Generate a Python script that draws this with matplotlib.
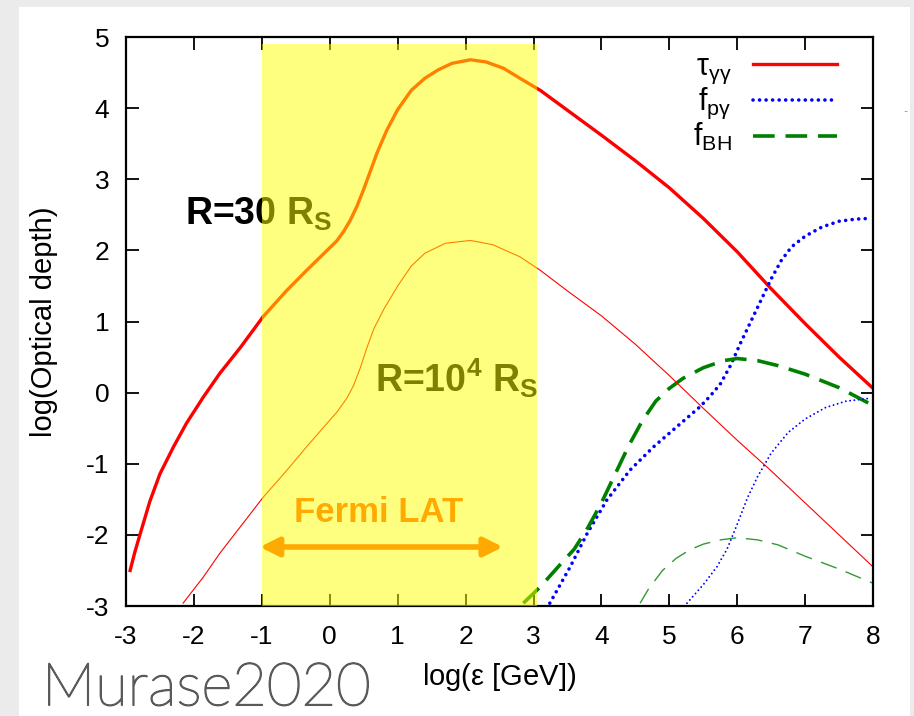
import matplotlib
matplotlib.use('Agg')
import matplotlib.pyplot as plt
import matplotlib.patheffects as pe
from matplotlib.patches import Rectangle

# thick curves: R = 30 R_S
tau30_x = [-2.94, -2.87, -2.79, -2.65, -2.50, -2.30, -2.11, -1.86, -1.62, -1.32, -0.98, -0.63, -0.34, -0.04,
           0.1, 0.2, 0.3, 0.4, 0.5, 0.6, 0.7, 0.84, 1.0, 1.2, 1.4, 1.6, 1.8, 2.07, 2.3, 2.56, 2.8, 3.1,
           3.5, 4.0, 4.5, 5.0, 5.5, 6.0, 6.5, 7.0, 7.5, 8.0]
tau30_y = [-2.50, -2.24, -1.98, -1.53, -1.14, -0.76, -0.43, -0.06, 0.27, 0.63, 1.07, 1.44, 1.72, 2.0,
           2.13, 2.26, 2.42, 2.62, 2.86, 3.12, 3.38, 3.69, 3.98, 4.25, 4.42, 4.54, 4.63, 4.68, 4.65, 4.56,
           4.42, 4.25, 3.97, 3.62, 3.26, 2.88, 2.45, 1.98, 1.46, 0.97, 0.5, 0.06]
fpg30_x = [3.24, 3.54, 3.79, 4.08, 4.42, 4.77, 5.11, 5.45, 5.6, 5.75, 5.9, 6.05, 6.2, 6.35, 6.5, 6.65,
           6.8, 7.0, 7.25, 7.5, 7.75, 7.95]
fpg30_y = [-2.96, -2.45, -1.98, -1.51, -1.09, -0.76, -0.48, -0.2, -0.05, 0.12, 0.38, 0.7, 1.0, 1.3, 1.6,
           1.86, 2.05, 2.2, 2.33, 2.41, 2.44, 2.45]
fbh30_x = [2.85, 3.10, 3.39, 3.6, 3.8, 4.0, 4.2, 4.4, 4.6, 4.8, 5.0, 5.2, 5.5, 5.8, 6.0, 6.3, 6.6, 7.0,
           7.5, 8.0]
fbh30_y = [-2.96, -2.73, -2.42, -2.2, -1.9, -1.55, -1.15, -0.75, -0.4, -0.12, 0.06, 0.2, 0.35, 0.45, 0.48,
           0.45, 0.38, 0.26, 0.07, -0.18]

# thin curves: R = 1e4 R_S
tau4_x = [-2.16, -1.86, -1.62, -1.32, -0.98, -0.63, -0.34, -0.04, 0.1, 0.25, 0.35, 0.45, 0.55, 0.65,
          0.8, 1.0, 1.2, 1.4, 1.7, 2.07, 2.4, 2.8, 3.1, 3.5, 4.0, 4.5, 5.0, 5.5, 6.0, 6.5, 7.0, 7.5, 8.0]
tau4_y = [-2.96, -2.59, -2.26, -1.89, -1.47, -1.09, -0.76, -0.43, -0.28, -0.08, 0.1, 0.35, 0.64, 0.9,
          1.18, 1.5, 1.78, 1.96, 2.1, 2.14, 2.08, 1.91, 1.72, 1.43, 1.08, 0.68, 0.24, -0.22, -0.67, -1.1,
          -1.55, -2.0, -2.45]
fpg4_x = [5.26, 5.5, 5.7, 5.85, 6.0, 6.15, 6.3, 6.5, 6.75, 7.0, 7.3, 7.6, 7.95]
fpg4_y = [-2.96, -2.7, -2.45, -2.2, -1.85, -1.48, -1.18, -0.85, -0.56, -0.37, -0.21, -0.12, -0.08]
fbh4_x = [4.57, 4.7, 4.9, 5.1, 5.3, 5.5, 5.75, 6.0, 6.3, 6.6, 7.0, 7.5, 8.0]
fbh4_y = [-2.96, -2.75, -2.5, -2.33, -2.21, -2.13, -2.07, -2.04, -2.07, -2.14, -2.3, -2.48, -2.68]

xticks = list(range(-3, 9))
yticks = list(range(-3, 6))

plt.rcParams['font.family'] = ['Liberation Sans', 'DejaVu Sans']
plt.rcParams['axes.unicode_minus'] = False
plt.rcParams['mathtext.fontset'] = 'custom'
plt.rcParams['mathtext.rm'] = 'Liberation Sans'
plt.rcParams['mathtext.it'] = 'Liberation Sans'
plt.rcParams['mathtext.bf'] = 'Liberation Sans:bold'

fig = plt.figure(figsize=(9.14, 7.16), dpi=100)
fig.patch.set_facecolor('#ebebeb')
fig.patches.append(Rectangle((19 / 914, 0), 891 / 914, 1 - 7 / 716, transform=fig.transFigure,
                             facecolor='white', edgecolor='none', zorder=-10))

ax = fig.add_axes([0.1379, 0.1536, 0.8173, 0.7947])
ax.set_zorder(2)
ax.set_facecolor('white')

red, blue, green = '#ff0000', '#0000ff', '#008000'
ax.plot(tau30_x, tau30_y, color=red, lw=2.4, label=r'$\mathrm{\tau}_{\mathrm{\gamma\gamma}}$', zorder=2)
ax.plot(fpg30_x, fpg30_y, color=blue, lw=2.6, linestyle=(0, (0.01, 1.8)), label=r'f$_{\mathrm{p\gamma}}$',
        zorder=2, dash_capstyle='round')
ax.plot(fbh30_x, fbh30_y, color=green, lw=2.6, linestyle=(0, (6, 3)), label=r'f$_{\mathrm{BH}}$', zorder=2)
ax.plot(tau4_x, tau4_y, color=red, lw=0.8, zorder=2)
ax.plot(fpg4_x, fpg4_y, color=blue, lw=1.4, linestyle=(0, (0.01, 2.2)), dash_capstyle='round', zorder=2)
ax.plot(fbh4_x, fbh4_y, color=green, lw=1.0, linestyle=(0, (12, 7)), zorder=2, alpha=0.8)

ax.text(-2.13, 2.5, r'R=30 R$_\mathbf{S}$', fontsize=27, fontweight='bold', va='center', zorder=2.5)
ax.text(0.67, 0.2, r'R=10$^\mathbf{4}$ R$_\mathbf{S}$', fontsize=27, fontweight='bold', va='center', zorder=2.5)

# Fermi LAT band
ax.axvspan(-1, 3.05, ymin=0, ymax=(4.9 + 3) / 8, color='yellow', alpha=0.5, lw=0, zorder=3)
orange = '#ffaa00'
ax.text(0.72, -1.68, 'Fermi LAT', fontsize=25, fontweight='bold', color=orange, ha='center', va='center', zorder=4)
ax.annotate('', xy=(-1.03, -2.17), xytext=(2.55, -2.17),
            arrowprops=dict(arrowstyle='<|-|>', color=orange, lw=4, mutation_scale=28, shrinkA=0, shrinkB=0),
            zorder=4)

ax.set_xlim(-3, 8)
ax.set_ylim(-3, 5)
ax.set_xticks(xticks)
ax.set_yticks(yticks)
ax.tick_params(direction='in', length=9, width=1.3, top=True, right=True, labelsize=19)
ax.tick_params(axis='x', pad=14)
ax.tick_params(axis='y', pad=12)
for s in ax.spines.values():
    s.set_linewidth(1.6)

ax.set_xlabel(r'log($\mathrm{\varepsilon}$ [GeV])', fontsize=21, labelpad=8)
ax.set_ylabel('log(Optical depth)', fontsize=21, labelpad=20)

ax.legend(loc='upper right', bbox_to_anchor=(0.968, 0.995), borderaxespad=0, frameon=False,
          markerfirst=False, fontsize=22, handlelength=2.75, labelspacing=0.0, handletextpad=0.7)

mark = '#5a5a5a'
fig.text(42 / 914, 0.015, 'Murase2020', fontsize=43, family=['Lato', 'DejaVu Sans'], fontweight='light',
         color=mark, va='baseline', path_effects=[pe.withStroke(linewidth=1.1, foreground=mark)])
fig.text(903 / 914, 1 - 112 / 716, '..', fontsize=7, color='#444444')

plt.savefig('out.png', dpi=100, facecolor=fig.get_facecolor())
